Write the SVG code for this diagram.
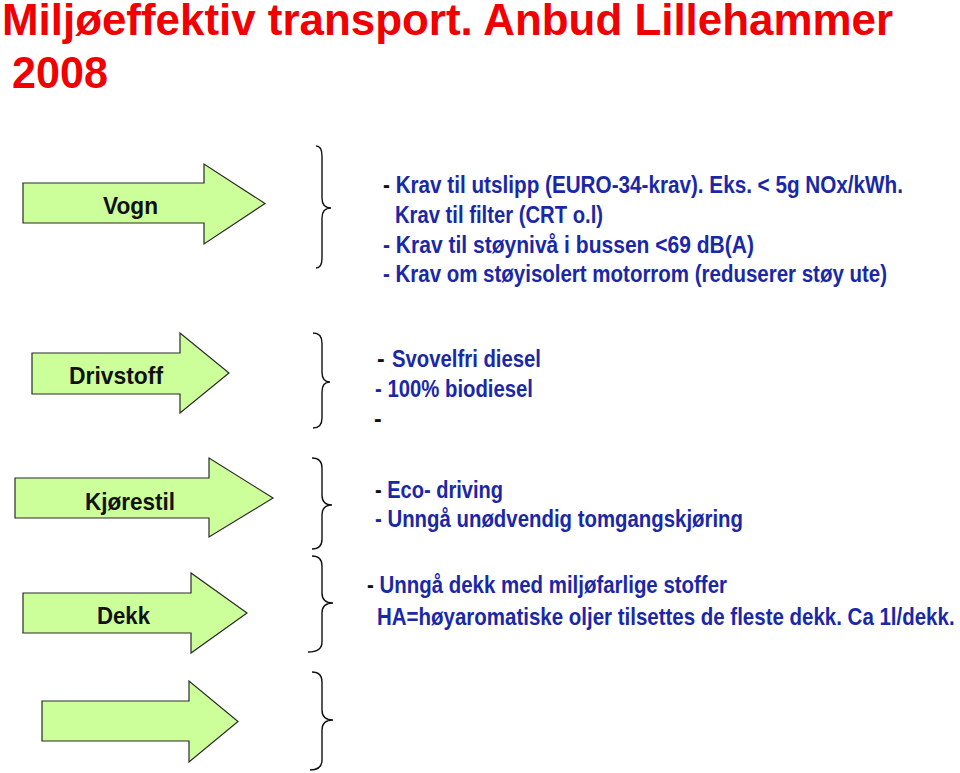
<svg xmlns="http://www.w3.org/2000/svg" width="960" height="773" viewBox="0 0 960 773">
<style>
.title{font-family:"Liberation Sans",Arial,sans-serif;font-weight:bold;font-size:44px;fill:#f00000}
.arrow{fill:#ccff99;stroke:#2a2a2a;stroke-width:1.2;stroke-linejoin:miter}
.lbl{font-family:"Liberation Sans",Arial,sans-serif;font-weight:bold;font-size:24px;fill:#111;text-anchor:middle}
.txt{font-family:"Liberation Sans",Arial,sans-serif;font-weight:bold;font-size:23px;fill:#1a28a8}
.dk{fill:#111}
.brace{fill:none;stroke:#111;stroke-width:1.4}
</style>
<rect width="960" height="773" fill="#fff"/>
<g id="title">
<text class="title" x="2" y="35" textLength="891" lengthAdjust="spacingAndGlyphs">Miljøeffektiv transport. Anbud Lillehammer</text>
<text class="title" x="12" y="88" textLength="96" lengthAdjust="spacingAndGlyphs">2008</text>
</g>
<g id="vogn">
<path class="arrow" d="M23,183 H204 V164 L265,203.5 L204,244 V223 H23 Z"/>
<text class="lbl" x="130.5" y="214" textLength="55" lengthAdjust="spacingAndGlyphs">Vogn</text>
</g>
<g id="drivstoff">
<path class="arrow" d="M32,353 H180 V333 L229,373 L180,413 V394 H32 Z"/>
<text class="lbl" x="116" y="384" textLength="94" lengthAdjust="spacingAndGlyphs">Drivstoff</text>
</g>
<g id="kjorestil">
<path class="arrow" d="M15,478 H209 V458 L273,498 L209,537 V518 H15 Z"/>
<text class="lbl" x="130" y="510" textLength="90" lengthAdjust="spacingAndGlyphs">Kjørestil</text>
</g>
<g id="dekk">
<path class="arrow" d="M23,593 H191 V573 L247,613 L191,653 V633 H23 Z"/>
<text class="lbl" x="123.5" y="624" textLength="53" lengthAdjust="spacingAndGlyphs">Dekk</text>
</g>
<g id="blank">
<path class="arrow" d="M42,701 H189 V681 L238,721.5 L189,762 V741 H42 Z"/>
</g>
<g id="connectors">
<path class="brace" d="M316,146 Q322,146 322,156 L322,198 Q322,208 331,208 Q322,208 322,218 L322,258 Q322,268 316,268"/>
<path class="brace" d="M313,333 Q322,333 322,343 L322,372 Q322,382 330,382 Q322,382 322,392 L322,418 Q322,428 313,428"/>
<path class="brace" d="M312,458 Q322,458 322,468 L322,495 Q322,505 332,505 Q322,505 322,515 L322,539 Q322,549 312,549"/>
<path class="brace" d="M312,556 Q322,556 322,566 L322,593 Q322,603 333,603 Q322,603 322,613 L322,642 Q322,652 308,652"/>
<path class="brace" d="M312,672 Q322,672 322,682 L322,710 Q322,720 333,720 Q322,720 322,730 L322,760 Q322,770 310,770"/>
</g>
<g id="vogn-text">
<text class="txt" x="383" y="193" textLength="520" lengthAdjust="spacingAndGlyphs"><tspan class="dk">-</tspan> Krav til utslipp (EURO-34-krav). Eks. &lt; 5g NOx/kWh.</text>
<text class="txt" x="395" y="223" textLength="208" lengthAdjust="spacingAndGlyphs">Krav til filter (CRT o.l)</text>
<text class="txt" x="383" y="253" textLength="371" lengthAdjust="spacingAndGlyphs">- Krav til støynivå i bussen  &lt;69 dB(A)</text>
<text class="txt" x="383" y="282" textLength="504" lengthAdjust="spacingAndGlyphs">- Krav om støyisolert motorrom (reduserer støy ute)</text>
</g>
<g id="drivstoff-text">
<text class="txt"><tspan class="dk" x="377" y="367">-</tspan><tspan x="392" y="367" textLength="149" lengthAdjust="spacingAndGlyphs">Svovelfri diesel</tspan></text>
<text class="txt" x="375" y="397" textLength="158" lengthAdjust="spacingAndGlyphs">- 100% biodiesel</text>
<text class="txt dk" x="374" y="427">-</text>
</g>
<g id="kjorestil-text">
<text class="txt" x="375" y="498" textLength="128" lengthAdjust="spacingAndGlyphs"><tspan class="dk">-</tspan> Eco- driving</text>
<text class="txt" x="375" y="527" textLength="368" lengthAdjust="spacingAndGlyphs">- Unngå unødvendig tomgangskjøring</text>
</g>
<g id="dekk-text">
<text class="txt" x="367" y="593" textLength="360" lengthAdjust="spacingAndGlyphs"><tspan class="dk">-</tspan> Unngå dekk med miljøfarlige stoffer</text>
<text class="txt" transform="translate(377,625) scale(0.891,1)" x="0" y="0">HA=høyaromatiske oljer tilsettes de fleste dekk. Ca 1l/dekk.</text>
</g>
</svg>
